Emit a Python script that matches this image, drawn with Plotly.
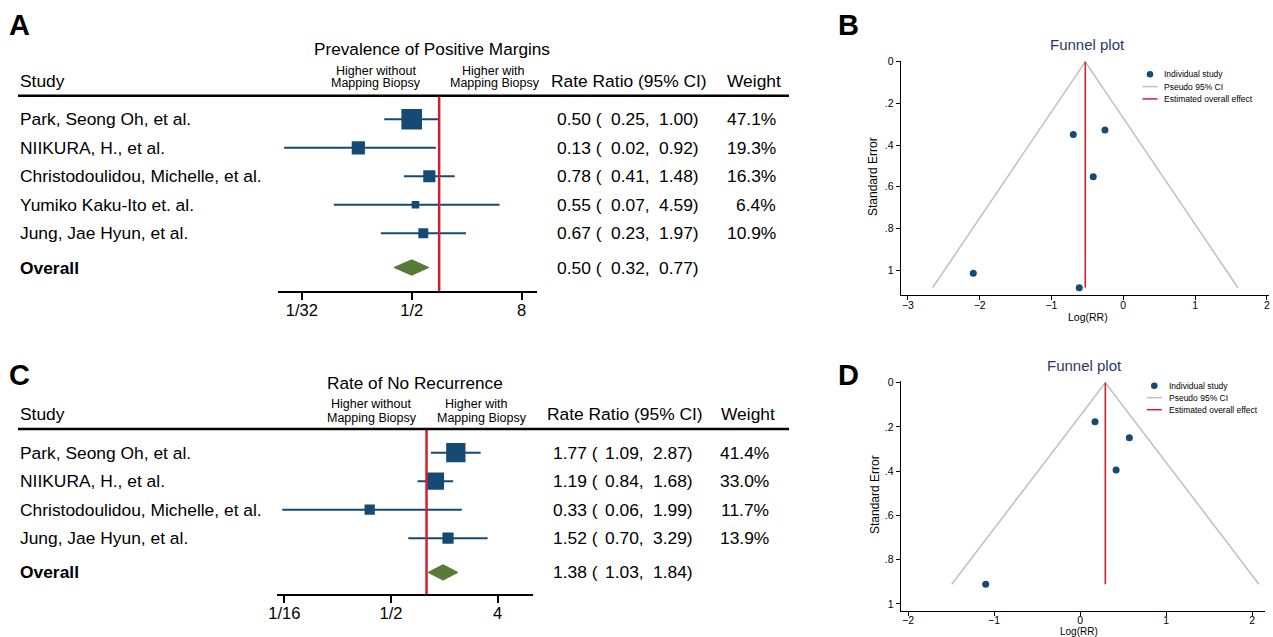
import math
import plotly.graph_objects as go

W, H = 1273, 637
FONT = "Liberation Sans, Arial, Helvetica, sans-serif"
NAVY = "#154a75"
GREEN = "#577a36"
RED = "#d0202f"
GRAY = "#c0c0c0"
TITLE_BLUE = "#2a3766"
TXT = 17.4

# ---------------- Data ----------------
# Panel A: Prevalence of Positive Margins
a_studies = ["Park, Seong Oh, et al.", "NIIKURA, H., et al.",
             "Christodoulidou, Michelle, et al.", "Yumiko Kaku-Ito et. al.",
             "Jung, Jae Hyun, et al."]
a_rr = [0.50, 0.13, 0.78, 0.55, 0.67]
a_lo = [0.25, 0.02, 0.41, 0.07, 0.23]
a_hi = [1.00, 0.92, 1.48, 4.59, 1.97]
a_weight = [47.1, 19.3, 16.3, 6.4, 10.9]
a_overall = [0.50, 0.32, 0.77]
a_tickvals = [1 / 32, 1 / 2, 8]
a_ticktext = ["1/32", "1/2", "8"]

# Panel C: Rate of No Recurrence
c_studies = ["Park, Seong Oh, et al.", "NIIKURA, H., et al.",
             "Christodoulidou, Michelle, et al.", "Jung, Jae Hyun, et al."]
c_rr = [1.77, 1.19, 0.33, 1.52]
c_lo = [1.09, 0.84, 0.06, 0.70]
c_hi = [2.87, 1.68, 1.99, 3.29]
c_weight = [41.4, 33.0, 11.7, 13.9]
c_overall = [1.38, 1.03, 1.84]
c_tickvals = [1 / 16, 1 / 2, 4]
c_ticktext = ["1/16", "1/2", "4"]

# Panel B: funnel plot (log RR vs standard error)
b_logrr = [-0.696, -2.089, -0.255, -0.613, -0.418]
b_se = [0.349, 1.016, 0.328, 1.085, 0.552]
b_theta = -0.529

# Panel D: funnel plot
d_logrr = [0.573, 0.174, -1.097, 0.419]
d_se = [0.249, 0.176, 0.911, 0.394]
d_theta = 0.294

funnel_ticks_y = [0, 0.2, 0.4, 0.6, 0.8, 1]
funnel_ticktext_y = ["0", ".2", ".4", ".6", ".8", "1"]


def px(x):
    return x / W


def py(y):
    return 1 - y / H


fig = go.Figure()
annotations = []
shapes = []


def ann(text, x, y, size, xanchor="left", yref="paper", color="black", bold=False, angle=0):
    annotations.append(dict(
        text=f"<b>{text}</b>" if bold else text, x=x, y=y, xref="paper", yref=yref,
        xanchor=xanchor, yanchor="middle", showarrow=False, textangle=angle,
        borderpad=0, borderwidth=0,
        font=dict(family=FONT, size=size, color=color)))


def forest(ax, studies, rr, lo, hi, wt, overall, tickvals, ticktext,
           l2range, xdom, ydom, title, title_pos, dir_pos, cols):
    xa = "x" if ax == 1 else f"x{ax}"
    ya = "y" if ax == 1 else f"y{ax}"
    n = len(studies)
    rows = list(range(1, n + 1))
    orow = n + 1.2
    xs, ys = [], []
    for r, l, h in zip(rows, lo, hi):
        xs += [l, h, None]
        ys += [r, r, None]
    fig.add_trace(go.Scatter(x=xs, y=ys, mode="lines", xaxis=xa, yaxis=ya,
                             line=dict(color=NAVY, width=2), showlegend=False, hoverinfo="skip"))
    fig.add_trace(go.Scatter(x=rr, y=rows, mode="markers", xaxis=xa, yaxis=ya,
                             marker=dict(symbol="square", color=NAVY, opacity=1,
                                         size=[3.0 * math.sqrt(w) for w in wt],
                                         line=dict(width=0)),
                             showlegend=False))
    est, olo, ohi = overall
    hh = 0.27
    fig.add_trace(go.Scatter(x=[olo, est, ohi, est, olo], y=[orow, orow - hh, orow, orow + hh, orow],
                             mode="lines", fill="toself", fillcolor=GREEN, xaxis=xa, yaxis=ya,
                             line=dict(color=GREEN, width=1), showlegend=False))
    top_px, bot_px = ydom
    first_row_px = 119.3 if ax == 1 else 452.7
    ytop = 1 - (first_row_px - top_px) / 28.5
    ybot = 1 + (bot_px - first_row_px) / 28.5
    fig.update_layout(**{
        ("xaxis" if ax == 1 else f"xaxis{ax}"): dict(
            type="log", range=[l2range[0] * math.log10(2), l2range[1] * math.log10(2)],
            domain=[px(xdom[0]), px(xdom[1])], anchor=ya, automargin=False,
            ticklabelstandoff=-4,
            showline=True, linecolor="black", linewidth=1.5, ticks="outside",
            ticklen=7, tickwidth=1.5, tickcolor="black", tickvals=tickvals, ticktext=ticktext,
            tickfont=dict(family=FONT, size=16.5, color="black"), showgrid=False, zeroline=False),
        ("yaxis" if ax == 1 else f"yaxis{ax}"): dict(
            range=[ybot, ytop], domain=[py(bot_px), py(top_px)], anchor=xa, automargin=False,
            visible=False, showgrid=False, zeroline=False),
    })
    shapes.append(dict(type="line", xref=xa, yref=f"{ya} domain", x0=1, x1=1, y0=0, y1=1,
                       line=dict(color=RED, width=2.5)))
    shapes.append(dict(type="line", xref="paper", yref="paper", x0=px(18), x1=px(789),
                       y0=py(top_px), y1=py(top_px), line=dict(color="black", width=2.5)))
    est_x, lo_x, hi_x, w_x, rr_head_x, w_head_x, head_y = cols
    for r, s, e, l, h, w in zip(rows, studies, rr, lo, hi, wt):
        ann(s, px(20), r, TXT, yref=ya)
        ann(f"{e:.2f} (", px(est_x), r, TXT, yref=ya)
        ann(f"{l:.2f},", px(lo_x), r, TXT, xanchor="right", yref=ya)
        ann(f"{h:.2f})", px(hi_x), r, TXT, xanchor="right", yref=ya)
        ann(f"{w:.1f}%", px(w_x), r, TXT, xanchor="right", yref=ya)
    ann("Overall", px(20), orow, TXT, yref=ya, bold=True)
    ann(f"{est:.2f} (", px(est_x), orow, TXT, yref=ya)
    ann(f"{olo:.2f},", px(lo_x), orow, TXT, xanchor="right", yref=ya)
    ann(f"{ohi:.2f})", px(hi_x), orow, TXT, xanchor="right", yref=ya)
    ann("Study", px(20), py(head_y), TXT)
    ann("Rate Ratio (95% CI)", px(rr_head_x), py(head_y), TXT)
    ann("Weight", px(w_head_x), py(head_y), TXT)
    ann(title, px(title_pos[0]), py(title_pos[1]), 17.2, xanchor="center")
    (x1, x1b, x2, x2b, y1, y2) = dir_pos
    ann("Higher without", px(x1), py(y1), 12.5, xanchor="center")
    ann("Mapping Biopsy", px(x1b), py(y2), 12.5, xanchor="center")
    ann("Higher with", px(x2), py(y1), 12.5, xanchor="center")
    ann("Mapping Biopsy", px(x2b), py(y2), 12.5, xanchor="center")


def funnel(ax, logrr, se, theta, xrange_, xdom, ydom, yrange_, xticks, title_pos,
           ytitle_pos, xtitle_pos, legend_pos, xtitle_size):
    xa, ya = f"x{ax}", f"y{ax}"
    semax = max(se)
    fig.add_trace(go.Scatter(x=[theta - 1.96 * semax, theta, theta + 1.96 * semax],
                             y=[semax, 0, semax], mode="lines", xaxis=xa, yaxis=ya,
                             line=dict(color=GRAY, width=1.5), showlegend=False))
    fig.add_trace(go.Scatter(x=[theta, theta], y=[0, semax], mode="lines", xaxis=xa, yaxis=ya,
                             line=dict(color=RED, width=1.6), showlegend=False))
    fig.add_trace(go.Scatter(x=logrr, y=se, mode="markers", xaxis=xa, yaxis=ya,
                             marker=dict(color=NAVY, size=7, opacity=1), showlegend=False))
    fig.update_layout(**{
        f"xaxis{ax}": dict(range=xrange_, domain=[px(xdom[0]), px(xdom[1])], anchor=ya,
                           automargin=False, ticklabelstandoff=-4,
                           showline=True, linecolor="black", linewidth=1, ticks="outside",
                           ticklen=4, tickcolor="black", tickvals=xticks,
                           tickfont=dict(family=FONT, size=10.5, color="black"),
                           showgrid=False, zeroline=False),
        f"yaxis{ax}": dict(range=yrange_, domain=[py(ydom[1]), py(ydom[0])], anchor=xa,
                           automargin=False,
                           showline=True, linecolor="black", linewidth=1, ticks="outside",
                           ticklen=4, tickcolor="black", tickvals=funnel_ticks_y,
                           ticktext=funnel_ticktext_y,
                           tickfont=dict(family=FONT, size=10.5, color="black"),
                           showgrid=False, zeroline=False),
    })
    ann("Funnel plot", px(title_pos[0]), py(title_pos[1]), 15, xanchor="center", color=TITLE_BLUE)
    ann("Standard Error", px(ytitle_pos[0]), py(ytitle_pos[1]), 12, xanchor="center", angle=-90)
    ann("Log(RR)", px(xtitle_pos[0]), py(xtitle_pos[1]), xtitle_size, xanchor="center")
    lx, ly, tx, dy = legend_pos
    shapes.append(dict(type="circle", xref="paper", yref="paper", x0=px(lx - 3.3), x1=px(lx + 3.3),
                       y0=py(ly + 3.3), y1=py(ly - 3.3), fillcolor=NAVY, line=dict(width=0)))
    shapes.append(dict(type="line", xref="paper", yref="paper", x0=px(lx - 7.5), x1=px(lx + 7.5),
                       y0=py(ly + dy), y1=py(ly + dy), line=dict(color=GRAY, width=1.5)))
    shapes.append(dict(type="line", xref="paper", yref="paper", x0=px(lx - 7.5), x1=px(lx + 7.5),
                       y0=py(ly + 2 * dy), y1=py(ly + 2 * dy), line=dict(color=RED, width=1.5)))
    ann("Individual study", px(tx), py(ly), 8.5)
    ann("Pseudo 95% CI", px(tx), py(ly + dy), 8.5)
    ann("Estimated overall effect", px(tx), py(ly + 2 * dy), 8.5)


forest(1, a_studies, a_rr, a_lo, a_hi, a_weight, a_overall, a_tickvals, a_ticktext,
       (-5.858, 3.552), (278.3, 536.7), (95.7, 291.0),
       "Prevalence of Positive Margins", (432, 49),
       (376.3, 376.2, 493.8, 494.8, 71, 83.3),
       (557, 650, 699, 776, 551, 727, 80.7))

forest(2, c_studies, c_rr, c_lo, c_hi, c_weight, c_overall, c_tickvals, c_ticktext,
       (-4.198, 3.003), (277.3, 533.3), (429.0, 594.3),
       "Rate of No Recurrence", (415.3, 382.7),
       (371.3, 371.7, 476.7, 481.5, 404.3, 417.7),
       (553, 644, 693, 769, 547, 721, 414))

funnel(3, b_logrr, b_se, b_theta, [-3.10, 2.03], (900.7, 1269), (60.7, 295.0), [1.12, -0.005],
       [-3, -2, -1, 0, 1, 2], (1087, 44), (873, 177), (1087.5, 317.3), (1150, 74.3, 1164, 12.3),
       10.5)

funnel(4, d_logrr, d_se, d_theta, [-2.085, 2.15], (900.7, 1265), (381, 610.5), [1.03, -0.008],
       [-2, -1, 0, 1, 2], (1084, 365), (875, 495), (1079, 631.5), (1154.3, 385.7, 1169, 12),
       10)

for letter, x, y in [("A", 9, 25), ("B", 838, 25), ("C", 9, 375), ("D", 838, 375)]:
    ann(letter, px(x), py(y), 29, bold=True)

fig.update_layout(width=W, height=H,
                  margin=dict(l=0, r=0, t=0, b=0, pad=0, autoexpand=False),
                  paper_bgcolor="white", plot_bgcolor="white",
                  font=dict(family=FONT, color="black"),
                  annotations=annotations, shapes=shapes, showlegend=False)

fig.write_html("out.html", config={"displayModeBar": False},
               post_script="document.body.style.margin='0';document.body.style.overflow='hidden';")
